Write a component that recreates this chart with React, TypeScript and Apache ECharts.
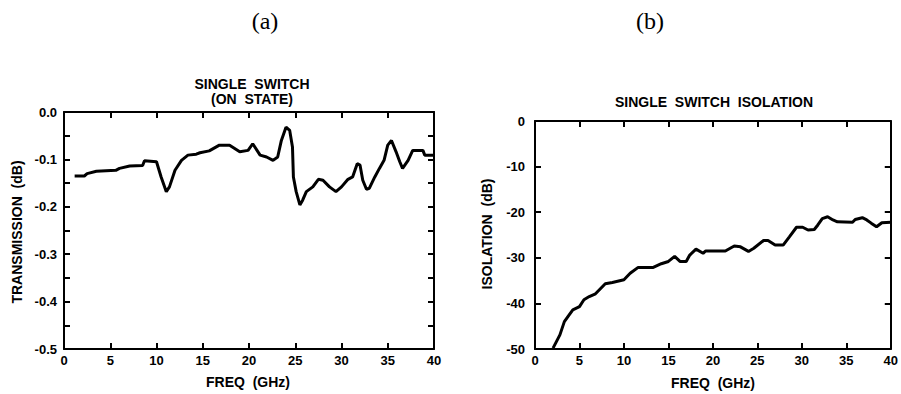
import React, { useEffect, useRef } from "react";
import * as echarts from "echarts";

const freqA = [1.15, 2.2, 2.5, 3.5, 5.6, 6, 7.1, 8.5, 8.7, 10, 10.5, 11.06, 11.4, 12, 12.7, 13.4, 14.3, 14.7, 15.7, 16.8, 17.9, 19, 19.9, 20.4, 21.2, 21.9, 22.6, 23.1, 23.5, 24, 24.4, 24.7, 24.8, 25.1, 25.5, 25.8, 26.2, 26.9, 27.5, 28, 28.7, 29.4, 30, 30.7, 31.2, 31.7, 32, 32.3, 32.7, 33, 33.6, 34.1, 34.6, 35, 35.4, 35.9, 36.3, 36.6, 37.2, 37.7, 38.8, 39, 39.9];
const transA = [-0.135, -0.135, -0.13, -0.125, -0.123, -0.119, -0.114, -0.113, -0.103, -0.105, -0.137, -0.168, -0.158, -0.123, -0.102, -0.091, -0.089, -0.086, -0.082, -0.07, -0.07, -0.084, -0.081, -0.067, -0.091, -0.095, -0.102, -0.095, -0.06, -0.032, -0.039, -0.074, -0.137, -0.168, -0.196, -0.186, -0.168, -0.158, -0.142, -0.144, -0.158, -0.168, -0.158, -0.142, -0.137, -0.109, -0.112, -0.144, -0.163, -0.161, -0.137, -0.119, -0.102, -0.07, -0.06, -0.084, -0.105, -0.119, -0.102, -0.081, -0.081, -0.091, -0.091];

const freqB = [2.03, 2.8, 3.3, 3.7, 4.25, 5, 5.5, 6.1, 6.8, 7.9, 8.7, 10, 10.7, 11.6, 13.3, 14.2, 15, 15.7, 16.3, 17, 17.4, 18.1, 18.9, 19.2, 21.4, 22.4, 23.1, 24, 24.6, 25.7, 26.2, 27, 27.9, 28.6, 29.4, 30.1, 30.7, 31.4, 31.8, 32.3, 32.9, 33.5, 34, 35.7, 36, 36.8, 37.3, 37.8, 38.4, 39, 40];
const isoB = [-49.8, -46.9, -44, -42.9, -41.4, -40.7, -39.2, -38.5, -37.9, -35.7, -35.4, -34.8, -33.4, -32.1, -32.1, -31.3, -30.8, -29.7, -30.8, -30.8, -29.4, -28.1, -29, -28.5, -28.5, -27.4, -27.6, -28.6, -27.9, -26.2, -26.2, -27.2, -27.2, -25.4, -23.3, -23.3, -23.9, -23.8, -22.8, -21.4, -21, -21.7, -22.1, -22.2, -21.6, -21.2, -21.7, -22.4, -23.2, -22.3, -22.2];

const FONT = "'Liberation Sans', Arial, sans-serif";

function xAxisDef(grid: number, position: "top" | "bottom", labels: boolean) {
  return {
    type: "value",
    gridIndex: grid,
    position,
    min: 0,
    max: 40,
    interval: 5,
    axisLine: { show: true, onZero: false, lineStyle: { color: "#000", width: 2 } },
    axisTick: { show: true, inside: true, length: 6, lineStyle: { color: "#000", width: 2 } },
    axisLabel: {
      show: labels,
      color: "#000",
      fontFamily: FONT,
      fontWeight: "bold",
      fontSize: 13,
      margin: 5,
    },
    splitLine: { show: false },
  };
}

function yAxisDef(grid: number, position: "left" | "right", labels: boolean, min: number, interval: number, minor: boolean, fmt: (v: number) => string, margin: number) {
  return {
    type: "value",
    gridIndex: grid,
    position,
    min,
    max: 0,
    interval,
    axisLine: { show: true, onZero: false, lineStyle: { color: "#000", width: 2 } },
    axisTick: { show: true, inside: true, length: 6, lineStyle: { color: "#000", width: 2 } },
    minorTick: { show: minor, splitNumber: 2, length: 6, lineStyle: { color: "#000", width: 2 } },
    axisLabel: {
      show: labels,
      color: "#000",
      fontFamily: FONT,
      fontWeight: "bold",
      fontSize: 13,
      margin,
      formatter: fmt,
    },
    splitLine: { show: false },
    minorSplitLine: { show: false },
  };
}

export default function App() {
  const ref = useRef<HTMLDivElement>(null);
  useEffect(() => {
    document.body.style.margin = "0";
    if (!ref.current) return;
    const chart = echarts.init(ref.current, null, { renderer: "svg" });
    const txt = (text: string, x: number, y: number, size: number, rotate = 0, family = FONT, weight = "bold") => ({
      type: "text",
      x,
      y,
      rotation: rotate,
      style: {
        text,
        fill: "#000",
        font: `${weight} ${size}px ${family}`,
        textAlign: "center",
        textVerticalAlign: "middle",
      },
    });
    chart.setOption({
      animation: false,
      backgroundColor: "#fff",
      grid: [
        { left: 64, top: 112, width: 370, height: 237 },
        { left: 535, top: 121, width: 361, height: 228 },
      ],
      xAxis: [
        xAxisDef(0, "bottom", true),
        xAxisDef(0, "top", false),
        xAxisDef(1, "bottom", true),
        xAxisDef(1, "top", false),
      ],
      yAxis: [
        yAxisDef(0, "left", true, -0.5, 0.1, true, (v: number) => v.toFixed(1), 7),
        yAxisDef(0, "right", false, -0.5, 0.1, true, (v: number) => v.toFixed(1), 7),
        yAxisDef(1, "left", true, -50, 10, false, (v: number) => String(Math.round(v)), 10),
        yAxisDef(1, "right", false, -50, 10, false, (v: number) => String(Math.round(v)), 10),
      ],
      series: [
        {
          type: "line",
          xAxisIndex: 0,
          yAxisIndex: 0,
          data: freqA.map((f, i) => [f, transA[i]]),
          showSymbol: false,
          lineStyle: { color: "#000", width: 3 },
        },
        {
          type: "line",
          xAxisIndex: 2,
          yAxisIndex: 2,
          data: freqB.map((f, i) => [f, isoB[i]]),
          showSymbol: false,
          lineStyle: { color: "#000", width: 3 },
        },
      ],
      graphic: [
        txt("(a)", 265, 21, 24, 0, "'Liberation Serif', 'Times New Roman', serif", "normal"),
        txt("(b)", 650, 21, 24, 0, "'Liberation Serif', 'Times New Roman', serif", "normal"),
        txt("SINGLE  SWITCH", 252, 84, 14),
        txt("(ON  STATE)", 252, 99, 14),
        txt("SINGLE  SWITCH  ISOLATION", 714, 102, 14),
        txt("TRANSMISSION  (dB)", 17, 232, 14, Math.PI / 2),
        txt("ISOLATION  (dB)", 487, 234, 14, Math.PI / 2),
        txt("FREQ  (GHz)", 248, 382, 14),
        txt("FREQ  (GHz)", 713, 383, 14),
      ],
    });
    return () => chart.dispose();
  }, []);
  return <div ref={ref} style={{ width: 901, height: 394 }} />;
}
